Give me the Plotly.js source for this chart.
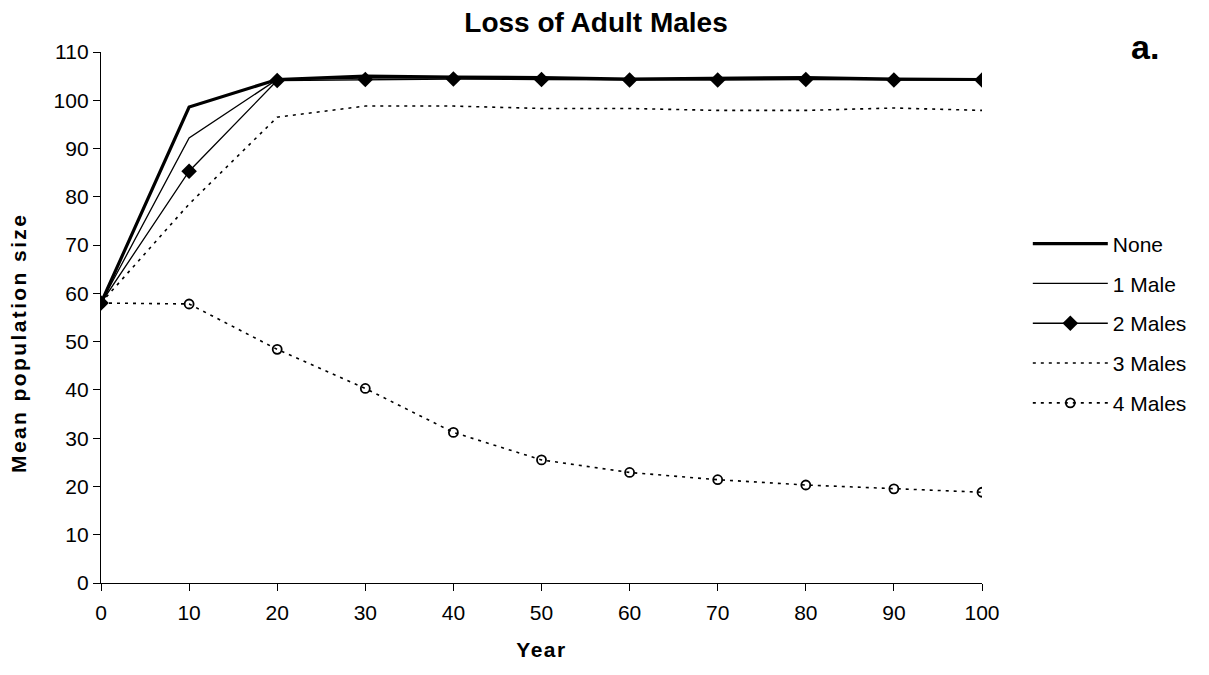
<!DOCTYPE html>
<html>
<head>
<meta charset="utf-8">
<script src="https://cdn.plot.ly/plotly-3.0.1.min.js"></script>
<style>
html,body{margin:0;padding:0;background:#fff;}
#chart{width:1209px;height:675px;}
.xtitle{letter-spacing:1.5px;}
.annotation[data-index="0"] text{letter-spacing:2.4px;}
</style>
</head>
<body>
<div id="chart"></div>
<script>
const years = [0, 10, 20, 30, 40, 50, 60, 70, 80, 90, 100];
const seriesNames = ["None", "1 Male", "2 Males", "3 Males", "4 Males"];
const noneVals   = [58, 98.6, 104.3, 105.0, 104.8, 104.7, 104.4, 104.6, 104.7, 104.4, 104.3];
const male1Vals  = [58, 92.2, 104.3, 104.6, 104.6, 104.5, 104.3, 104.4, 104.5, 104.3, 104.3];
const male2Vals  = [58, 85.3, 104.1, 104.3, 104.4, 104.3, 104.2, 104.2, 104.3, 104.2, 104.2];
const male3Vals  = [58, 78.5, 96.5, 98.8, 98.8, 98.3, 98.3, 97.9, 97.9, 98.4, 97.9];
const male4Vals  = [58, 57.8, 48.4, 40.3, 31.2, 25.5, 22.9, 21.4, 20.3, 19.5, 18.8];
const yTicks = [0, 10, 20, 30, 40, 50, 60, 70, 80, 90, 100, 110];
const xTicks = [0, 10, 20, 30, 40, 50, 60, 70, 80, 90, 100];

const FONT = "Liberation Sans, Arial, sans-serif";

const traces = [
  {x: years, y: noneVals, name: seriesNames[0], mode: "lines", legendgroup: "a",
   line: {color: "#000", width: 3.2}},
  {x: years, y: male1Vals, name: seriesNames[1], mode: "lines", legendgroup: "b",
   line: {color: "#000", width: 1.3}},
  {x: years, y: male2Vals, name: seriesNames[2], mode: "lines+markers", legendgroup: "c",
   line: {color: "#000", width: 1.3}, marker: {symbol: "diamond", size: 12, color: "#000"}},
  {x: years, y: male3Vals, name: seriesNames[3], mode: "lines", legendgroup: "d",
   line: {color: "#000", width: 1.6, dash: "3px,5px"}},
  {x: years, y: male4Vals, name: seriesNames[4], mode: "lines+markers", legendgroup: "e",
   line: {color: "#000", width: 1.6, dash: "3px,5px"},
   marker: {symbol: "circle-open", size: 9, color: "#000", line: {width: 1.8, color: "#000"}}}
];

const layout = {
  width: 1209, height: 675,
  margin: {l: 101, r: 227, t: 52, b: 92},
  paper_bgcolor: "#fff", plot_bgcolor: "#fff",
  font: {family: FONT, size: 21, color: "#000"},
  title: {text: "<b>Loss of Adult Males</b>", font: {family: FONT, size: 28, color: "#000"},
          x: 0.493, xanchor: "center", y: 0.967, yanchor: "middle"},
  xaxis: {
    range: [0, 100], tickvals: xTicks, ticktext: xTicks.map(String),
    showgrid: false, zeroline: false, showline: true, linecolor: "#000", linewidth: 1.2,
    ticks: "outside", ticklen: 7, tickcolor: "#000", tickwidth: 1, ticklabelstandoff: 4,
    tickfont: {family: FONT, size: 21, color: "#000"},
    title: {text: "<b>Year</b>", font: {family: FONT, size: 21, color: "#000"}, standoff: 18}
  },
  yaxis: {
    range: [0, 110], tickvals: yTicks, ticktext: yTicks.map(String),
    showgrid: false, zeroline: false, showline: true, linecolor: "#000", linewidth: 1.2,
    ticks: "outside", ticklen: 7, tickcolor: "#000", tickwidth: 1,
    tickfont: {family: FONT, size: 21, color: "#000"}
  },
  showlegend: true,
  legend: {x: 1.052, y: 0.677, xanchor: "left", yanchor: "top",
           font: {family: FONT, size: 21, color: "#000"}, itemwidth: 75,
           tracegroupgap: 9.5, bgcolor: "rgba(0,0,0,0)", borderwidth: 0},
  annotations: [
    {text: "<b>Mean population size</b>", xref: "paper", yref: "paper",
     x: (19 - 101) / 881, y: (583 - 343) / 531, xanchor: "center", yanchor: "middle",
     textangle: -90, showarrow: false, font: {family: FONT, size: 21, color: "#000"}},
    {text: "<b>a.</b>", xref: "paper", yref: "paper", x: 1.185, y: 1.01, xanchor: "center", yanchor: "middle",
     showarrow: false, font: {family: FONT, size: 34, color: "#000"}}
  ]
};

Plotly.newPlot("chart", traces, layout, {displayModeBar: false, staticPlot: true});
</script>
</body>
</html>
